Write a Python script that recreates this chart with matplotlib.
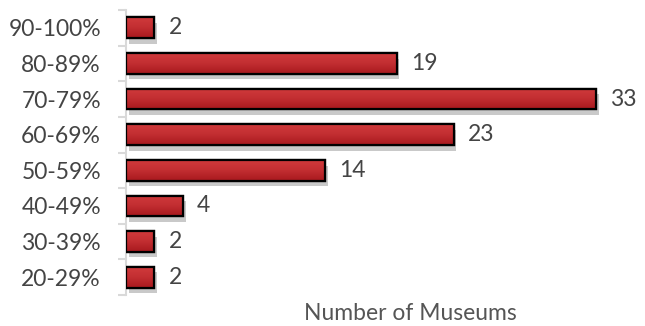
import matplotlib
matplotlib.use("Agg")
import matplotlib.pyplot as plt
import matplotlib.patheffects as pe
from matplotlib.colors import LinearSegmentedColormap
import numpy as np

categories = ["20-29%", "30-39%", "40-49%", "50-59%", "60-69%", "70-79%", "80-89%", "90-100%"]
values = [2, 2, 4, 14, 23, 33, 19, 2]

plt.rcParams['font.family'] = ['Lato', 'DejaVu Sans']
fig = plt.figure(figsize=(6.45, 3.26), dpi=100)
ax = fig.add_axes([126/645, 1-295/326, (640-126)/645, (295-10)/326])

y = np.arange(len(categories))
bh = 0.58
bars = ax.barh(y, values, height=bh, color='#BF2C2F', edgecolor='black', linewidth=1.6, zorder=3)
cmap = LinearSegmentedColormap.from_list('g', ['#D03A3C', '#C22E31', '#A8191E'])
grad = np.linspace(0, 1, 64).reshape(-1, 1)
for b in bars:
    b.set_path_effects([pe.SimplePatchShadow(offset=(2, -4), shadow_rgbFace='#666666', alpha=0.35), pe.Normal()])
    x0, y0, w, h = b.get_x(), b.get_y(), b.get_width(), b.get_height()
    im = ax.imshow(grad, cmap=cmap, aspect='auto', extent=(x0, x0 + w, y0, y0 + h),
                   origin='upper', zorder=3.5, interpolation='bicubic')
    im.set_clip_path(b)
    ax.add_patch(plt.Rectangle((x0, y0), w, h, fill=False, edgecolor='black', linewidth=1.6, zorder=4))

for yi, v in zip(y, values):
    ax.text(v + 1.0, yi, str(v), va='center', ha='left', fontsize=16.5, color='#444444')

ax.set_xlim(0, 514/14.24)
ax.set_ylim(-0.5, len(categories) - 0.5)
ax.set_yticks(y)
ax.set_yticklabels(categories, fontsize=16.5, color='#444444')
ax.tick_params(axis='y', which='major', length=0, pad=18)
ax.set_yticks(np.arange(-0.5, len(categories)), minor=True)
ax.tick_params(axis='y', which='minor', length=6, color='#D9D9D9', width=1.5)
ax.set_xticks([])
for s in ['top', 'right', 'bottom']:
    ax.spines[s].set_visible(False)
ax.spines['left'].set_color('#D9D9D9')
ax.spines['left'].set_linewidth(1.5)

ax.set_xlabel("Number of Museums", fontsize=16.5, color='#555555')
ax.xaxis.set_label_coords((410-126)/514, -0.065)
ax.xaxis.label.set_va('center')

fig.savefig("out.png", dpi=100)
